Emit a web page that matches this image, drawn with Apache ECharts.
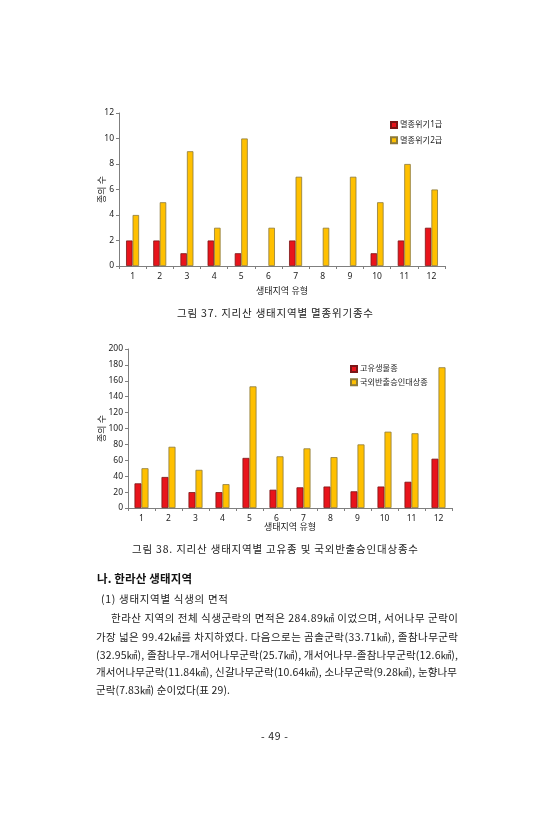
<!DOCTYPE html>
<html>
<head>
<meta charset="utf-8">
<script src="https://cdn.jsdelivr.net/npm/echarts@6/dist/echarts.min.js"></script>
<style>
  html, body { margin: 0; padding: 0; background: #fff; }
  #page { position: relative; width: 549px; height: 840px; overflow: hidden; }
  #chart { position: absolute; left: 0; top: 0; width: 549px; height: 840px; }
  .ln { position: absolute; white-space: nowrap; color: #222;
        font-family: "Noto Sans CJK KR", "Noto Sans", sans-serif; font-size: 10.5px;
        line-height: 14px; transform-origin: 0 50%; }
  .hd { font-weight: bold; font-size: 11.5px; color: #111; }
</style>
</head>
<body>
<div id="page">
  <div id="chart"></div>
  <!-- 캡션 / 본문 : 각 줄은 data-w 폭에 맞춰 벌림 -->
  <div class="ln" data-w="196" style="left:177px;top:306px">그림 37. 지리산 생태지역별 멸종위기종수</div>
  <div class="ln" data-w="286" style="left:132px;top:542px">그림 38. 지리산 생태지역별 고유종 및 국외반출승인대상종수</div>
  <div class="ln hd" data-w="95" style="left:97px;top:571px">나. 한라산 생태지역</div>
  <div class="ln" data-w="127" style="left:101px;top:592px">(1) 생태지역별 식생의 면적</div>
  <div class="ln" data-w="347" style="left:111px;top:611px">한라산 지역의 전체 식생군락의 면적은 284.89㎢ 이었으며, 서어나무 군락이</div>
  <div class="ln" data-w="362" style="left:96px;top:630px">가장 넓은 99.42㎢를 차지하였다. 다음으로는 곰솔군락(33.71㎢), 졸참나무군락</div>
  <div class="ln" data-w="362" style="left:96px;top:648px">(32.95㎢), 졸참나무-개서어나무군락(25.7㎢), 개서어나무-졸참나무군락(12.6㎢),</div>
  <div class="ln" data-w="361" style="left:96px;top:665px">개서어나무군락(11.84㎢), 신갈나무군락(10.64㎢), 소나무군락(9.28㎢), 눈향나무</div>
  <div class="ln" data-w="134" style="left:96px;top:683px">군락(7.83㎢) 순이었다(표 29).</div>
  <div class="ln" data-w="27" style="left:261px;top:729px">- 49 -</div>
</div>
<script>
// 생태지역 유형
var regions = ['1', '2', '3', '4', '5', '6', '7', '8', '9', '10', '11', '12'];

// 그림 37 - 멸종위기종수
var endangered1 = [2, 2, 1, 2, 1, 0, 2, 0, 0, 1, 2, 3];
var endangered2 = [4, 5, 9, 3, 10, 3, 7, 3, 7, 5, 8, 6];

// 그림 38 - 고유종 / 국외반출승인대상종
var endemic = [31, 39, 20, 20, 63, 23, 26, 27, 21, 27, 33, 62];
var exportSpecies = [50, 77, 48, 30, 153, 65, 75, 64, 80, 96, 94, 177];

var font = "'Noto Sans', 'Noto Sans CJK KR', sans-serif";
var red = '#e8141b', yellow = '#ffc000';

function xAxis(idx, gap) {
    return {
        type: 'category', gridIndex: idx, data: regions,
        name: '생태지역 유형', nameLocation: 'middle', nameGap: gap,
        nameMoveOverlap: false,
        nameTextStyle: {fontSize: 9, color: '#222', fontFamily: font},
        axisLine: {lineStyle: {color: '#7f7f7f', width: 1}},
        axisTick: {show: true, length: 3, alignWithLabel: false, lineStyle: {color: '#7f7f7f'}},
        axisLabel: {fontSize: 8.5, color: '#222', margin: 6, fontFamily: font},
        splitLine: {show: false}
    };
}
function yAxis(idx, max, interval, gap) {
    return {
        type: 'value', gridIndex: idx, min: 0, max: max, interval: interval,
        name: '종의 수', nameLocation: 'middle', nameRotate: 90, nameGap: gap,
        nameMoveOverlap: false,
        nameTextStyle: {fontSize: 9, color: '#222', fontFamily: font},
        axisLine: {show: true, lineStyle: {color: '#7f7f7f', width: 1}},
        axisTick: {show: true, length: 3, lineStyle: {color: '#7f7f7f'}},
        axisLabel: {fontSize: 8.5, color: '#222', margin: 5, fontFamily: font},
        splitLine: {show: false}
    };
}
function bar(name, data, idx, color, border, width) {
    return {
        name: name, type: 'bar', xAxisIndex: idx, yAxisIndex: idx,
        // 값이 0인 막대는 테두리도 그리지 않음
        data: data.map(function (v) {
            return v === 0 ? {value: 0, itemStyle: {borderWidth: 0}} : v;
        }),
        barWidth: width, barGap: '0%',
        itemStyle: {color: color, borderColor: border, borderWidth: 0.8},
        emphasis: {disabled: true}
    };
}

var chart = echarts.init(document.getElementById('chart'));
chart.setOption({
    animation: false,
    textStyle: {fontFamily: font},
    grid: [
        {left: 119, top: 113, width: 326, height: 153},
        {left: 128, top: 349, width: 324, height: 159}
    ],
    legend: [
        {data: ['멸종위기1급', '멸종위기2급'], orient: 'vertical', left: 385, top: 116,
         itemWidth: 6, itemHeight: 6, itemGap: 7, icon: 'rect',
         textStyle: {fontSize: 8.2, color: '#222', padding: [0, 0, 0, -2]}},
        {data: ['고유생물종', '국외반출승인대상종'], orient: 'vertical', left: 345, top: 360,
         itemWidth: 6, itemHeight: 6, itemGap: 5, icon: 'rect',
         textStyle: {fontSize: 8.2, color: '#222', padding: [0, 0, 0, -2]}}
    ],
    xAxis: [xAxis(0, 21), xAxis(1, 15)],
    yAxis: [yAxis(0, 12, 2, 12), yAxis(1, 200, 20, 21)],
    series: [
        bar('멸종위기1급', endangered1, 0, red, '#7a1616', 6.5),
        bar('멸종위기2급', endangered2, 0, yellow, '#8c7a3c', 6.5),
        bar('고유생물종', endemic, 1, red, '#7a1616', 7),
        bar('국외반출승인대상종', exportSpecies, 1, yellow, '#8c7a3c', 7)
    ]
});

// 각 줄을 원본 폭에 맞춤
var lines = document.querySelectorAll('.ln');
for (var i = 0; i < lines.length; i++) {
    var el = lines[i];
    var target = +el.getAttribute('data-w');
    var natural = el.getBoundingClientRect().width;
    if (natural > target) {
        el.style.transform = 'scaleX(' + (target / natural) + ')';
    } else {
        var n = el.textContent.length - 1;
        el.style.letterSpacing = ((target - natural) / n) + 'px';
    }
}
</script>
</body>
</html>
